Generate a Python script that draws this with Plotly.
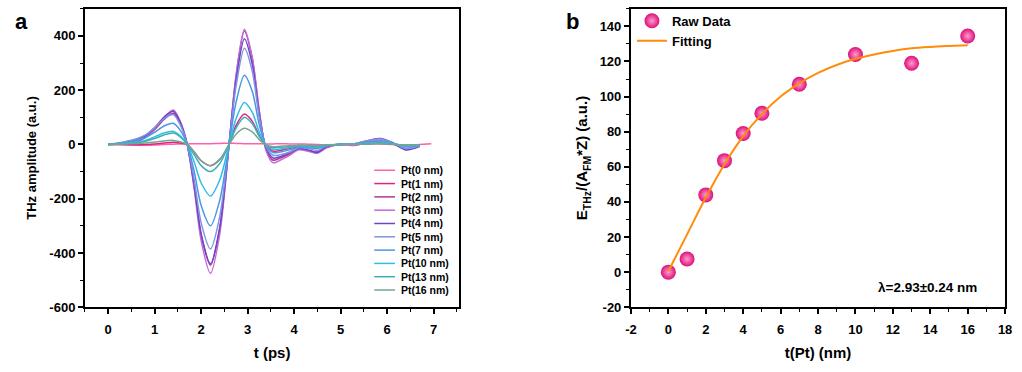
import plotly.graph_objects as go

# ---------------- Panel a data ----------------
T_COMMON = [0, 0.2, 0.4, 0.6, 0.8, 1.0, 1.2, 1.4, 1.55, 1.7, 1.85, 2.0, 2.2, 2.4, 2.6, 2.75,
            2.93, 3.1, 3.25, 3.4, 3.55, 3.7, 3.9, 4.1, 4.3, 4.5, 4.7, 5.0, 5.3, 5.6, 5.85, 6.1, 6.4, 6.7]
T_PT0 = T_COMMON + [6.95]

PT0 = [0, 0, -2, -3, -3, -2, 0, 1, 2, 2, 3, 3, 3, 4, 4, 4, 3, 3, 3, 2, 2, 3, 2, 2, 1, 0, -2, 0, 2, 3, 2, 0, -3, 0, 3]
PT1 = [0, 0, 0, -1, 0, 2, 5, 8, 5, 0, -28, -60, -78, -55, 0, 70, 112, 85, 32, -5, -25, -22, -15, -8, -8, -10, -4, 0, 1, 3, 5, 2, -4, -2]
PT2 = [0, 2, 5, 10, 25, 55, 92, 115, 78, 0, -155, -335, -445, -310, 0, 250, 418, 315, 120, -20, -58, -50, -35, -18, -22, -28, -10, 0, -3, 8, 12, 4, -15, -4]
PT3 = [0, 3, 6, 12, 28, 60, 100, 127, 85, 0, -165, -355, -475, -330, 0, 255, 425, 320, 125, -25, -68, -58, -40, -20, -25, -32, -12, 0, -4, 10, 15, 5, -18, -5]
PT4 = [0, 4, 10, 18, 32, 62, 100, 122, 82, 0, -150, -330, -440, -305, 0, 235, 390, 295, 110, -15, -50, -45, -30, -15, -20, -30, -8, 2, 2, 15, 22, 8, -20, -8]
PT5 = [0, 5, 12, 20, 35, 62, 95, 110, 72, 0, -130, -290, -385, -265, 0, 215, 355, 270, 100, -10, -40, -38, -28, -12, -15, -22, -5, 2, 3, 15, 20, 8, -15, -6]
PT7 = [0, 3, 8, 14, 25, 45, 68, 78, 52, 0, -100, -225, -300, -205, 0, 155, 255, 195, 72, -8, -30, -28, -20, -10, -12, -15, -5, 0, 2, 8, 12, 5, -8, -3]
PT10 = [0, 2, 5, 9, 15, 28, 42, 48, 32, 0, -65, -142, -190, -130, 0, 95, 155, 118, 45, -4, -18, -17, -12, -6, -8, -10, -3, 0, 1, 5, 8, 3, -5, -2]
PT13 = [0, 1, 3, 6, 12, 22, 35, 42, 28, 0, -38, -78, -100, -70, 0, 60, 100, 76, 30, -3, -12, -10, -8, -4, -5, -6, -2, 0, 1, 3, 5, 2, -3, -1]
PT16 = [0, 1, 2, 3, 5, 9, 13, 15, 10, 0, -28, -60, -78, -55, 0, 38, 60, 46, 18, -2, -8, -7, -5, -3, -3, -4, -1, 0, 1, 2, 3, 1, -2, -1]

SERIES_NAMES = ["Pt(0 nm)", "Pt(1 nm)", "Pt(2 nm)", "Pt(3 nm)", "Pt(4 nm)",
                "Pt(5 nm)", "Pt(7 nm)", "Pt(10 nm)", "Pt(13 nm)", "Pt(16 nm)"]
SERIES_VALUES = [PT0, PT1, PT2, PT3, PT4, PT5, PT7, PT10, PT13, PT16]
SERIES_TIMES = [T_PT0] + [T_COMMON] * 9
SERIES_COLORS = ["#ff5fae", "#e2237f", "#b0359f", "#c46ad6", "#6c45c2",
                 "#7f92e3", "#4b97e2", "#30bdea", "#3eafb8", "#72a88f"]

# tick values
X1_TICKS = [0, 1, 2, 3, 4, 5, 6, 7]
Y1_TICKS = [-600, -400, -200, 0, 200, 400]
X2_TICKS = [-2, 0, 2, 4, 6, 8, 10, 12, 14, 16, 18]
Y2_TICKS = [-20, 0, 20, 40, 60, 80, 100, 120, 140]

# ---------------- Panel b data ----------------
RAW_X = [0, 1, 2, 3, 4, 5, 7, 10, 13, 16]
RAW_Y = [0, 7.5, 44, 63.5, 79, 90.5, 107, 124, 119, 134.5]
FIT_X = [0, 1, 2, 3, 4, 5, 6, 7, 8, 9, 10, 11, 12, 13, 14, 15, 16]
FIT_Y = [0.5, 21.5, 42.5, 61.5, 77.5, 90, 100, 107.5, 113.5, 118, 121.5, 124, 126, 127.5, 128.3, 128.8, 129.2]

W, H = 1022, 372
FONT = "Arial, Liberation Sans, sans-serif"

fig = go.Figure()

for name, tt, vals, col in zip(SERIES_NAMES, SERIES_TIMES, SERIES_VALUES, SERIES_COLORS):
    fig.add_trace(go.Scatter(x=tt, y=vals, mode="lines", name=name,
                             line=dict(color=col, width=1.5, shape="spline", smoothing=0.8),
                             xaxis="x", yaxis="y", showlegend=False))

fig.add_trace(go.Scatter(x=RAW_X, y=RAW_Y, mode="markers", name="Raw Data",
                         marker=dict(size=15, color="#dc1079",
                                     gradient=dict(type="radial", color="#ff9ccd"),
                                     line=dict(width=0)),
                         xaxis="x2", yaxis="y2", legend="legend"))
fig.add_trace(go.Scatter(x=FIT_X, y=FIT_Y, mode="lines", name="Fitting",
                         line=dict(color="#ff8c0a", width=2, shape="spline"),
                         xaxis="x2", yaxis="y2", legend="legend"))

ydom = [(H - 314) / H, (H - 9) / H]
axis_common = dict(showline=True, linecolor="black", linewidth=2, mirror=True,
                   ticks="outside", ticklen=5, tickwidth=1.5, tickcolor="black",
                   showgrid=False, zeroline=False,
                   tickfont=dict(family=FONT, size=13, color="black", weight="bold"))
minor_common = dict(ticks="outside", ticklen=3, tickcolor="black", tickwidth=1.2)


def tick_text(vals):
    return [str(v) for v in vals]


fig.update_layout(
    width=W, height=H, margin=dict(l=0, r=0, t=0, b=0),
    paper_bgcolor="white", plot_bgcolor="white",
    xaxis=dict(domain=[80 / W, 459 / W], range=[-0.5, 7.55],
               tickmode="array", tickvals=X1_TICKS, ticktext=tick_text(X1_TICKS),
               minor=dict(dtick=0.5, tick0=0, **minor_common), ticklabelstandoff=4,
               title=dict(text="t (ps)", standoff=12,
                          font=dict(family=FONT, size=15, color="black", weight="bold")),
               anchor="y", **axis_common),
    yaxis=dict(domain=ydom, range=[-600, 500],
               tickmode="array", tickvals=Y1_TICKS, ticktext=tick_text(Y1_TICKS),
               minor=dict(dtick=100, tick0=0, **minor_common),
               title=dict(text="THz amplitude (a.u.)", standoff=10,
                          font=dict(family=FONT, size=13, color="black", weight="bold")),
               anchor="x", **axis_common),
    xaxis2=dict(domain=[633 / W, 1012 / W], range=[-2, 18],
                tickmode="array", tickvals=X2_TICKS, ticktext=tick_text(X2_TICKS),
                minor=dict(dtick=1, tick0=0, **minor_common), ticklabelstandoff=4,
                title=dict(text="t(Pt) (nm)", standoff=12,
                           font=dict(family=FONT, size=15, color="black", weight="bold")),
                anchor="y2", **axis_common),
    yaxis2=dict(domain=ydom, range=[-20, 150],
                tickmode="array", tickvals=Y2_TICKS, ticktext=tick_text(Y2_TICKS),
                minor=dict(dtick=10, tick0=0, **minor_common),
                title=dict(text="E<sub>THz</sub>/(A<sub>FM</sub>*Z) (a.u.)", standoff=8,
                           font=dict(family=FONT, size=15, color="black", weight="bold")),
                anchor="x2", **axis_common),
    legend=dict(x=634 / W, y=1 - 6 / H, xanchor="left", yanchor="top",
                bgcolor="rgba(0,0,0,0)", borderwidth=0,
                font=dict(family=FONT, size=13, color="black", weight="bold"),
                itemwidth=30, tracegroupgap=0),
)

# manual compact legend for panel a
shapes = []
annotations = []
for i, (name, col) in enumerate(zip(SERIES_NAMES, SERIES_COLORS)):
    ypx = 174 + i * 13.6
    yp = 1 - ypx / H
    shapes.append(dict(type="line", xref="paper", yref="paper",
                       x0=373 / W, x1=394 / W, y0=yp, y1=yp,
                       line=dict(color=col, width=1.5)))
    annotations.append(dict(text=name, xref="paper", yref="paper", x=398 / W, y=yp,
                            xanchor="left", yanchor="middle", showarrow=False,
                            font=dict(family=FONT, size=10.5, color="black", weight="bold")))

annotations.append(dict(text="a", xref="paper", yref="paper", x=16 / W, y=1 - 22 / H,
                        xanchor="center", yanchor="middle", showarrow=False,
                        font=dict(family=FONT, size=22, color="black", weight="bold")))
annotations.append(dict(text="b", xref="paper", yref="paper", x=574 / W, y=1 - 22 / H,
                        xanchor="center", yanchor="middle", showarrow=False,
                        font=dict(family=FONT, size=22, color="black", weight="bold")))
annotations.append(dict(text="λ=2.93±0.24 nm", xref="paper", yref="paper", x=986 / W, y=1 - 294 / H,
                        xanchor="right", yanchor="middle", showarrow=False,
                        font=dict(family=FONT, size=13.5, color="black", weight="bold")))

fig.update_layout(shapes=shapes, annotations=annotations)

fig.write_html("out.html")
